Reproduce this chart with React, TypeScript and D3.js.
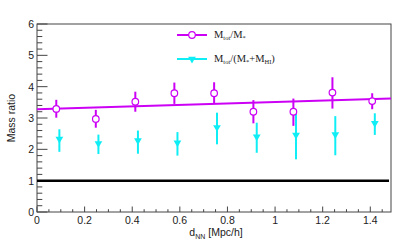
import React from 'react'
import * as d3 from 'd3'

// distance bins (Mpc/h)
const xStar = [0.081, 0.247, 0.413, 0.577, 0.744, 0.909, 1.077, 1.241, 1.408]
const yStar = [3.29, 2.97, 3.52, 3.79, 3.79, 3.2, 3.2, 3.81, 3.54]
const errStarHi = [0.29, 0.29, 0.32, 0.34, 0.35, 0.37, 0.42, 0.49, 0.25]
const errStarLo = [0.28, 0.28, 0.32, 0.34, 0.32, 0.37, 0.45, 0.51, 0.26]

const xGas = [0.094, 0.258, 0.424, 0.59, 0.756, 0.923, 1.088, 1.253, 1.419]
const yGas = [2.33, 2.19, 2.28, 2.21, 2.7, 2.4, 2.46, 2.47, 2.83]
const errGasHi = [0.31, 0.28, 0.32, 0.34, 0.47, 0.45, 0.69, 0.59, 0.32]
const errGasLo = [0.41, 0.34, 0.42, 0.41, 0.54, 0.51, 0.78, 0.66, 0.37]

const fitIntercept = 3.28
const fitSlope = 0.23

const xTicks = [0, 0.2, 0.4, 0.6, 0.8, 1, 1.2, 1.4]
const yTicks = [0, 1, 2, 3, 4, 5, 6]

const W = 415
const H = 240
const margin = { top: 24, right: 24, bottom: 28, left: 37 }
const MAG = '#cc00f5'
const CYA = '#10eef5'
const AXIS = '#444'

export default function App() {
  const x = d3.scaleLinear().domain([0, 1.487]).range([margin.left, W - margin.right])
  const y = d3.scaleLinear().domain([0, 6]).range([H - margin.bottom, margin.top])
  const [x0, x1] = x.range()
  const [y0, y1] = y.range()

  const xMinor = d3.range(0, 1.49, 0.05)
  const yMinor = d3.range(0, 6.01, 0.2)

  const line = d3.line<number>().x(d => x(d)).y(d => y(fitIntercept + fitSlope * d))
  const tri = d3.symbol().type(d3.symbolTriangle).size(26)()

  const sans = 'Liberation Sans, Arial, sans-serif'
  const serif = 'Liberation Serif, Times New Roman, serif'

  return (
    <svg width={W} height={H} style={{ position: 'absolute', left: 0, top: 0, background: '#fff' }}>
      {/* frame */}
      <rect x={x0} y={y1} width={x1 - x0} height={y0 - y1} fill="none" stroke={AXIS} strokeWidth={1} />

      {/* x ticks */}
      {xMinor.map((v, i) => {
        const major = i % 4 === 0
        return <line key={'xm' + i} x1={x(v)} x2={x(v)} y1={y0} y2={y0 - (major ? 5.5 : 2.8)} stroke={AXIS} />
      })}
      {xTicks.map(v => (
        <text key={'xt' + v} x={x(v)} y={y0 + 12} textAnchor="middle" fontSize={10.5} fontFamily={sans} fill="#222">
          {d3.format('~g')(v)}
        </text>
      ))}

      {/* y ticks */}
      {yMinor.map((v, i) => {
        const major = i % 5 === 0
        return <line key={'ym' + i} x1={x0} x2={x0 + (major ? 10.5 : 5.3)} y1={y(v)} y2={y(v)} stroke={AXIS} />
      })}
      {yTicks.map(v => (
        <text key={'yt' + v} x={x0 - 3} y={y(v) + 4} textAnchor="end" fontSize={10.5} fontFamily={sans} fill="#222">
          {v}
        </text>
      ))}

      {/* axis titles */}
      <text transform={`translate(15,${(y0 + y1) / 2}) rotate(-90)`} textAnchor="middle" fontSize={10.5} fontFamily={sans} fill="#222">
        Mass ratio
      </text>
      <text x={(x0 + x1) / 2 + 2} y={H - 4} textAnchor="middle" fontSize={10.5} fontFamily={sans} fill="#222">
        d<tspan fontSize={7} dy={2.5}>NN</tspan><tspan dy={-2.5}> [Mpc/h]</tspan>
      </text>

      {/* reference line at 1 */}
      <line x1={x0} x2={x1 - 2} y1={y(1)} y2={y(1)} stroke="#000" strokeWidth={2.5} />

      {/* fit */}
      <path d={line([0, 1.487]) ?? ''} fill="none" stroke={MAG} strokeWidth={2} />

      {/* cyan points */}
      {xGas.map((v, i) => (
        <g key={'g' + i}>
          <line x1={x(v)} x2={x(v)} y1={y(yGas[i] + errGasHi[i])} y2={y(yGas[i] - errGasLo[i])} stroke={CYA} strokeWidth={2} />
          <path d={tri ?? ''} transform={`translate(${x(v)},${y(yGas[i])}) rotate(180)`} fill={CYA} />
        </g>
      ))}

      {/* magenta points */}
      {xStar.map((v, i) => (
        <g key={'s' + i}>
          <line x1={x(v)} x2={x(v)} y1={y(yStar[i] + errStarHi[i])} y2={y(yStar[i] - errStarLo[i])} stroke={MAG} strokeWidth={2} />
          <circle cx={x(v)} cy={y(yStar[i])} r={3.3} fill="#fff" stroke={MAG} strokeWidth={1.2} />
        </g>
      ))}

      {/* legend */}
      <line x1={177} x2={207} y1={35} y2={35} stroke={MAG} strokeWidth={2} />
      <circle cx={192} cy={35} r={3.3} fill="#fff" stroke={MAG} strokeWidth={1.2} />
      <text x={214} y={38} fontSize={10.5} fontFamily={serif} fill="#222">
        M<tspan fontSize={6.5} dy={2}>tot</tspan><tspan dy={-2}>/M</tspan><tspan fontSize={6.5} dy={2}>*</tspan>
      </text>
      <line x1={177} x2={207} y1={59} y2={59} stroke={CYA} strokeWidth={2} />
      <path d={tri ?? ''} transform={`translate(192,59) rotate(180)`} fill={CYA} />
      <text x={214} y={62} fontSize={10.5} fontFamily={serif} fill="#222">
        M<tspan fontSize={6.5} dy={2}>tot</tspan><tspan dy={-2}>/(M</tspan><tspan fontSize={6.5} dy={2}>*</tspan>
        <tspan dy={-2}>+M</tspan><tspan fontSize={6.5} dy={2}>HI</tspan><tspan dy={-2}>)</tspan>
      </text>
    </svg>
  )
}
